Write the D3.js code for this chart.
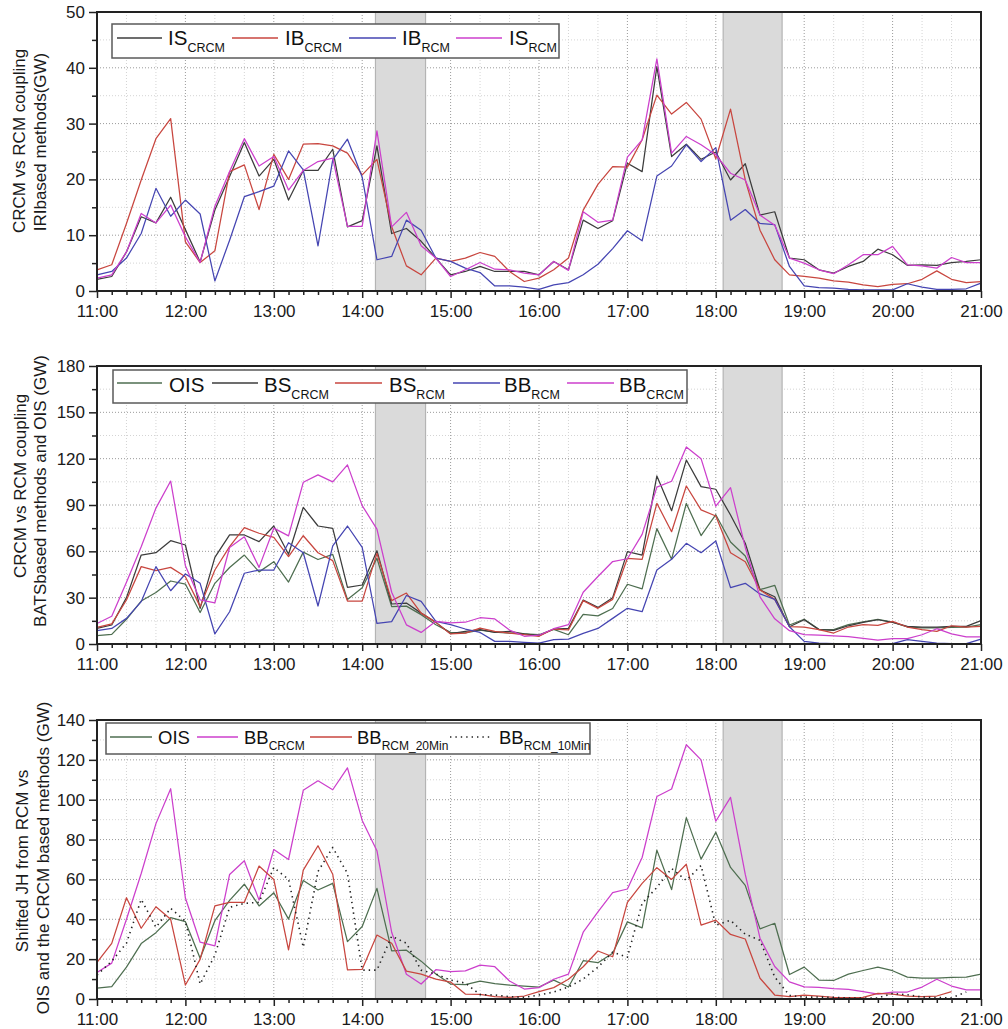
<!DOCTYPE html>
<html><head><meta charset="utf-8">
<script src="https://cdn.jsdelivr.net/npm/d3@7/dist/d3.min.js"></script>
<style>
body{margin:0;background:#fff;}
svg{display:block;font-family:"Liberation Sans",Arial,sans-serif;}
</style>
</head><body>
<svg id="chart" width="1008" height="1029"></svg>
<script>
// ---------------- DATA (10-minute samples from 11:00 to 21:00) ----------------
const hourLabels = ["11:00","12:00","13:00","14:00","15:00","16:00","17:00","18:00","19:00","20:00","21:00"];
const shadedPeriods = [["14:09","14:43"],["18:05","18:45"]];

// Panel 1 (IRI based methods)
const IS_CRCM = [2.1,2.6,7,13.3,12.2,16.8,11,5.2,14.5,20.5, 26.6,20.6,23.6,16.3,21.6,21.6,25.4,11.5,12.6,26.0, 10.3,11.2,8.9,5.9,2.9,3.5,4.4,3.5,3.5,3.5, 2.9,5.3,3.8,12.7,11.2,12.6,22.9,21.4,40.2,24.1, 26.3,23.6,24.9,19.9,22.8,13.6,14.2,5.9,5.6,3.8, 3.2,4.4,5.3,7.5,6.5,4.6,4.7,4.6,5.1,5.3,5.6];
const IB_CRCM = [3.8,4.7,12.1,19.9,27.3,30.9,8.8,5.1,7.2,21.4, 22.6,14.6,24.5,20.0,26.3,26.4,26.0,24.7,20.8,23.6, 11.5,4.5,2.9,5.9,5.3,5.9,6.9,6.2,3.5,1.7, 2.3,3.8,5.9,14.5,19.1,22.3,22.2,27.1,35.1,31.7, 33.8,30.8,23.7,32.6,19.9,10.9,5.6,2.9,2.6,2.3, 1.8,1.6,1.1,0.8,1.2,1.3,2.1,3.6,2.1,1.5,1.7];
const IB_RCM = [2.9,3.5,5.9,10.3,18.4,13.4,16.3,13.8,1.8,9.1, 16.9,17.8,18.8,25.1,21.7,8.1,23.5,27.2,20.4,5.6, 6.2,12.7,10.9,5.9,5.3,4.1,3.3,0.9,0.9,0.7, 0.3,1.1,1.5,2.9,4.8,7.6,10.8,9.0,20.6,22.4, 26.2,23.2,25.7,12.7,14.6,12.1,11.9,4.4,0.9,0.6, 0.5,0.3,0.2,0.2,0.2,1.3,0.7,0.3,0.3,0.4,1.4];
const IS_RCM = [2.3,2.9,7.0,13.9,12.2,15.4,9.7,5.1,15.2,21.4, 27.3,22.4,24.1,18.1,21.6,23.2,23.8,11.6,11.6,28.7, 11.5,14.1,8.1,5.9,2.6,3.8,5.1,3.9,3.8,3.2, 2.9,5.3,3.7,14.2,12.3,12.7,24.0,27.1,41.6,24.7, 27.7,26.2,24.4,21.1,19.9,13.6,11.8,5.9,5.0,3.8, 3.1,4.7,6.5,6.5,8.0,4.7,4.5,4.1,6.0,5.1,5.1];

// Panel 2 (BATS based methods and OIS)
const OIS = [5.5,6.2,16,27.8,33.3,40.8,38.8,20.4,39.3,49.5, 57.6,46.7,53.3,40.1,59.5,54.7,58,28.8,36.4,55.5, 24.2,24.5,19,12.5,7.5,7.2,9,7.7,7,6.5, 6,9.5,6,19.2,18.2,23,38.7,35.7,74.7,54.9, 91,70.2,83.7,66,57,35.2,38,12.3,16,9.5, 9.3,12.5,14.3,16,14.2,11,10.5,10.5,10.8,11,12.5];
const BS_CRCM = [10.1,12.3,30,57.6,59.1,66.9,64.1,23.1,56.1,70.6, 70.6,66.3,76.4,58.1,88.5,76.4,74.9,36.7,38.2,60.4, 25.9,26.5,20,14,6.7,8.2,9.3,7.5,8.2,6.5, 5.4,9.7,10.1,28.5,23.7,30.0,59.8,57.6,108.8,86.3, 119.1,101.9,100.2,83.5,65.2,35.0,30.6,11.2,15.7,9.3, 8.8,11.8,14.0,15.7,14.0,11.4,11.0,11.0,11.4,11.4,15.1];
const BS_RCM = [10.8,13.0,28.5,50.1,47.5,49.6,43.6,24.2,47.9,63.0, 75.3,71.7,69.1,56.6,70.1,59.1,54.0,27.8,27.8,58.7, 28.1,33.0,20.0,14.0,6.5,7.1,10.3,8.2,7.1,6.0, 5.0,9.7,9.1,28.1,23.1,28.9,55.5,54.8,91.1,72.7, 102.3,86.8,82.9,59.1,53.3,35.0,28.9,11.2,11.0,9.3, 7.1,11.0,12.5,12.1,14.6,11.0,9.3,8.2,11.8,11.0,11.4];
const BB_RCM = [8.6,10.1,16.6,27.4,50.1,34.5,45.3,39.3,6.5,20.9, 45.8,47.9,47.9,65.6,59.1,24.6,63.5,76.4,62.6,13.4, 14.5,31.4,27.6,14.6,12.5,9.7,7.5,1.7,1.7,1.1, 0.6,2.8,3.2,6.9,10.1,16.6,23.1,20.9,47.9,54.8, 65.2,59.1,66.7,36.5,39.3,32.4,28.9,11.2,1.7,0.6, 0.2,0.2,0.2,0.2,0.2,2.8,1.7,0.6,0.3,0.3,3.2];
const BB_CRCM = [13.3,18,40,63,88,105.5,50.7,28.5,26.7,62.5, 69.4,49.6,75,70,104.7,109.5,105,116,89.6,74.4, 33.5,12.4,7.5,14.7,13.7,14.1,17,16.2,9,5, 5.7,9.9,12.5,33.5,43.7,53.4,55.2,71,101.6,105.4, 127.6,120,89.2,101.2,62.5,30.5,16.3,8.6,6.1,5.8, 5.2,4.8,3.7,2.5,3.5,3.5,6,9.9,6.5,4.6,4.6];

// Panel 3 (shifted JH from RCM)
const BB_RCM_20Min = [18.4,27.9,50.8,35.5,46.3,40.0,7.0,19.9,46.7,48.5, 48.5,66.7,60.0,24.6,64.7,76.9,62.6,14.6,14.9,32.1, 28.0,14.0,12.5,10.0,8.5,2.5,2.3,1.2,0.8,1.5, 3.7,5.7,9.9,16.2,24.1,21.2,48.5,58.0,65.9,60.0, 67.6,37.1,39.6,32.4,30.1,10.4,2.0,1.2,2.0,1.5, 0.8,0.7,0.8,2.8,2.5,1.5,1.2,1.5,3.7];
const BB_RCM_10Min = [12,19,28,50,36,45.5,39,7.5,22,46, 48,48.5,66,60,26,64,76,63,14.5,14.5, 31.5,28,14.5,12.5,9.5,8,2.2,2,1.2,0.8, 2,3.5,6,10,16,23.5,21,48,56,65.5, 59.5,67,37,39.5,32.5,29.5,11,1.8,0.9,1, 0.8,0.5,0.4,0.5,2.8,2.1,1,0.7,0.6,3.5];

// ---------------- STYLE / LAYOUT ----------------
const COL = {dark:"#3c3c3c", red:"#c8463f", blue:"#4545b2", mag:"#cc3fcc", ois:"#4e6e50", dot:"#222"};
const STEP = 10;               // minutes between samples
const X0 = 97, X1 = 981;
const toMin = s => { const [h,m] = s.split(":").map(Number); return (h-11)*60 + m; };

const panels = [
  { top:12, bottom:291, ymax:50, major:10, minor:5,
    series:[
      {main:"IS", sub:"CRCM", data:IS_CRCM, color:COL.dark},
      {main:"IB", sub:"CRCM", data:IB_CRCM, color:COL.red},
      {main:"IB", sub:"RCM",  data:IB_RCM,  color:COL.blue},
      {main:"IS", sub:"RCM",  data:IS_RCM,  color:COL.mag}],
    legend:{x0:112,y0:24,x1:559,y1:58,ly:38,base:45,fs:20.5,sfs:12.5,sdy:7,
      items:[[117,162,168],[232,278,285],[349,396,402],[456,502,509]]},
    ylab:[{t:"CRCM vs RCM coupling",x:25,cy:141},{t:"IRIbased methods(GW)",x:46,cy:142}] },
  { top:366, bottom:644, ymax:180, major:30, minor:15,
    series:[
      {main:"OIS", sub:"", data:OIS, color:COL.ois},
      {main:"BS", sub:"CRCM", data:BS_CRCM, color:COL.dark},
      {main:"BS", sub:"RCM",  data:BS_RCM,  color:COL.red},
      {main:"BB", sub:"RCM",  data:BB_RCM,  color:COL.blue},
      {main:"BB", sub:"CRCM", data:BB_CRCM, color:COL.mag}],
    legend:{x0:113,y0:370,x1:687,y1:403,ly:383,base:392,fs:20.5,sfs:12.5,sdy:7,
      items:[[117,162,169],[212,258,264],[335,382,389],[453,500,504],[567,614,619]]},
    ylab:[{t:"CRCM vs RCM coupling",x:26,cy:486},{t:"BATSbased methods and OIS (GW)",x:46,cy:491}] },
  { top:720, bottom:999, ymax:140, major:20, minor:10,
    series:[
      {main:"OIS", sub:"", data:OIS, color:COL.ois},
      {main:"BB", sub:"CRCM", data:BB_CRCM, color:COL.mag},
      {main:"BB", sub:"RCM_20Min", data:BB_RCM_20Min, color:COL.red},
      {main:"BB", sub:"RCM_10Min", data:BB_RCM_10Min, color:COL.dot, dash:"1.4,4", width:1.6}],
    legend:{x0:106,y0:723,x1:590,y1:754,ly:737,base:744,fs:18.5,sfs:12,sdy:6,
      items:[[110,152,158],[197,238,244],[310,352,357],[450,492,499]]},
    ylab:[{t:"Shifted JH from RCM vs",x:28,cy:861},{t:"OIS and the CRCM based methods (GW)",x:49,cy:858}] }
];

const svg = d3.select("#chart");
const x = d3.scaleLinear().domain([0, 600]).range([X0, X1]);
const hourTicks = hourLabels.map(toMin);
const tenTicks = d3.range(0, 601, 10).filter(v => v % 60 !== 0);
const twentyGrid = d3.range(0, 601, 20).filter(v => v % 60 !== 0);

panels.forEach((p, pi) => {
  const g = svg.append("g").attr("class", "panel" + pi);
  const y = d3.scaleLinear().domain([0, p.ymax]).range([p.bottom, p.top]);
  const majorY = d3.range(0, p.ymax + 0.001, p.major);
  const minorY = d3.range(p.minor, p.ymax, p.major);

  // grid
  const grid = g.append("g").attr("class", "grid");
  grid.selectAll("line.vmin").data(twentyGrid).join("line").attr("class", "vmin")
    .attr("x1", d => x(d)).attr("x2", d => x(d)).attr("y1", p.top).attr("y2", p.bottom)
    .attr("stroke", "#d4d4d4").attr("stroke-width", 1).attr("stroke-dasharray", "1,2");
  grid.selectAll("line.hmin").data(minorY).join("line").attr("class", "hmin")
    .attr("x1", X0).attr("x2", X1).attr("y1", d => y(d)).attr("y2", d => y(d))
    .attr("stroke", "#d4d4d4").attr("stroke-width", 1).attr("stroke-dasharray", "1,2");
  grid.selectAll("line.vmaj").data(hourTicks.slice(1, -1)).join("line").attr("class", "vmaj")
    .attr("x1", d => x(d)).attr("x2", d => x(d)).attr("y1", p.top).attr("y2", p.bottom)
    .attr("stroke", "#9a9a9a").attr("stroke-width", 1).attr("stroke-dasharray", "1,2");
  grid.selectAll("line.hmaj").data(majorY.slice(1, -1)).join("line").attr("class", "hmaj")
    .attr("x1", X0).attr("x2", X1).attr("y1", d => y(d)).attr("y2", d => y(d))
    .attr("stroke", "#9a9a9a").attr("stroke-width", 1).attr("stroke-dasharray", "1,2");

  // shaded periods
  g.selectAll("rect.band").data(shadedPeriods).join("rect").attr("class", "band")
    .attr("x", d => x(toMin(d[0]))).attr("width", d => x(toMin(d[1])) - x(toMin(d[0])))
    .attr("y", p.top).attr("height", p.bottom - p.top)
    .attr("fill", "#dadada").attr("stroke", "#b4b4b4").attr("stroke-width", 1.2);

  // series
  const lineGen = d3.line().defined(d => d[1] != null).x(d => x(d[0])).y(d => y(d[1]));
  p.series.forEach(s => {
    g.append("path").datum(s.data.map((v, i) => [i * STEP, v]))
      .attr("d", lineGen).attr("fill", "none")
      .style("stroke", s.color)
      .style("stroke-width", s.width || 1.25).style("stroke-linejoin", "round")
      .style("stroke-dasharray", s.dash || "none");
  });

  // axes
  const xMinor = d3.axisBottom(x).tickValues(tenTicks).tickSize(4).tickFormat("");
  const xMajor = d3.axisBottom(x).tickValues(hourTicks).tickSize(7).tickPadding(7)
    .tickFormat((d, i) => hourLabels[i]);
  const yMinor = d3.axisLeft(y).tickValues(minorY).tickSize(5).tickFormat("");
  const yMajor = d3.axisLeft(y).tickValues(majorY).tickSize(8).tickPadding(4).tickFormat(d3.format("d"));
  [[xMinor, "b"], [xMajor, "b"], [yMinor, "l"], [yMajor, "l"]].forEach(([ax, side]) => {
    const a = g.append("g").attr("class", "axis")
      .attr("transform", side === "b" ? `translate(0,${p.bottom})` : `translate(${X0},0)`)
      .call(ax);
    a.select(".domain").remove();
    a.selectAll(".tick line").attr("stroke", "#222").attr("stroke-width", 1.5);
    a.selectAll(".tick text").attr("fill", "#1a1a1a").style("font-size", "17px")
      .style("font-family", '"Liberation Sans",Arial,sans-serif');
  });

  // frame
  g.append("rect").attr("x", X0).attr("y", p.top).attr("width", X1 - X0).attr("height", p.bottom - p.top)
    .attr("fill", "none").attr("stroke", "#222").attr("stroke-width", 2);

  // y labels
  p.ylab.forEach(l => {
    g.append("text").attr("transform", `translate(${l.x},${l.cy}) rotate(-90)`)
      .attr("text-anchor", "middle").attr("fill", "#1a1a1a").style("font-size", "17px").text(l.t);
  });

  // legend
  const L = p.legend;
  const lg = g.append("g").attr("class", "legend");
  lg.append("rect").attr("x", L.x0).attr("y", L.y0).attr("width", L.x1 - L.x0).attr("height", L.y1 - L.y0)
    .attr("fill", "#fff").attr("stroke", "#5a5a5a").attr("stroke-width", 1.5);
  p.series.forEach((s, i) => {
    const [a, b, t] = L.items[i];
    lg.append("path").attr("d", `M${a},${L.ly}H${b}`)
      .attr("fill", "none")
      .style("stroke", s.color).style("stroke-width", s.width ? s.width : 1.4)
      .style("stroke-dasharray", s.dash || "none");
    const tx = lg.append("text").attr("x", t).attr("y", L.base).attr("fill", "#111")
      .style("font-size", L.fs + "px");
    tx.append("tspan").text(s.main);
    if (s.sub) tx.append("tspan").attr("dy", L.sdy).style("font-size", L.sfs + "px").text(s.sub);
  });
});
</script>
</body></html>
